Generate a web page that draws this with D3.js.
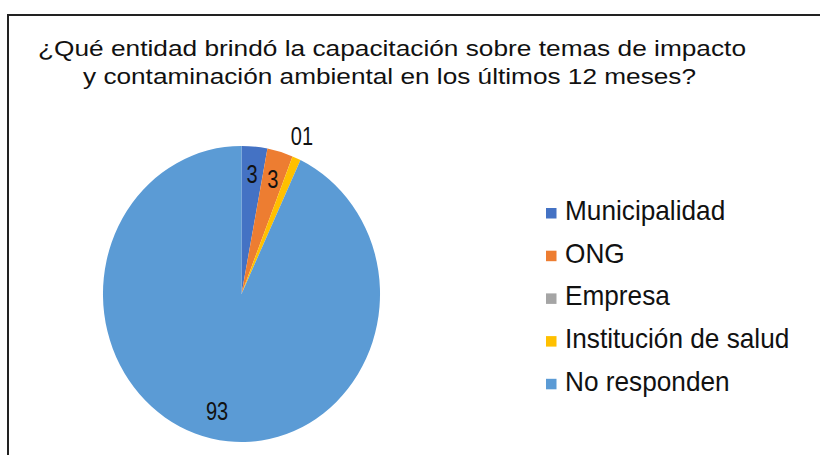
<!DOCTYPE html>
<html>
<head>
<meta charset="utf-8">
<script src="https://cdn.jsdelivr.net/npm/d3@7"></script>
<style>
  body { margin: 0; background: #fff; }
  svg { display: block; }
</style>
</head>
<body>
<div id="container"></div>
<script>
/* CONSTANTS AND GLOBALS */
const width = 820,
  height = 455,
  radius = 148,
  squash = 0.936, // picture is a bit narrower than tall
  narrow = 0.8;   // condensed look of the data labels

/* DATA */
const categories = ["Municipalidad", "ONG", "Empresa", "Institución de salud", "No responden"];
const values = [3, 3, 0, 1, 93];
const colors = ["#4472C4", "#ED7D31", "#A5A5A5", "#FFC000", "#5B9BD5"];
const titleLines = [
  "¿Qué entidad brindó la capacitación sobre temas de impacto",
  "y contaminación ambiental en los últimos 12 meses?"
];

const data = categories.map((c, i) => ({ name: c, value: values[i], color: colors[i] }));

const svg = d3.select("#container")
  .append("svg")
  .attr("width", width)
  .attr("height", height)
  .style("background-color", "white");

// chart frame (right and bottom edges run off the picture)
svg.append("rect")
  .attr("x", 8)
  .attr("y", 15)
  .attr("width", 830)
  .attr("height", 460)
  .attr("fill", "none")
  .attr("stroke", "#222")
  .attr("stroke-width", 2);

/* TITLE */
svg.selectAll(".title")
  .data(titleLines)
  .join("text")
  .attr("class", "title")
  .attr("x", (d, i) => i === 0 ? 38 : 83)
  .attr("y", (d, i) => 56 + i * 28)
  .attr("textLength", (d, i) => i === 0 ? 708 : 613)
  .attr("lengthAdjust", "spacingAndGlyphs")
  .style("font-family", "'Liberation Sans', Arial, sans-serif")
  .style("font-size", "22px")
  .style("fill", "#111")
  .text(d => d);

/* PIE */
const pie = d3.pie().sort(null).value(d => d.value);
const arcs = pie(data);
const arc = d3.arc().innerRadius(0).outerRadius(radius);
const labelArc = d3.arc().innerRadius(radius * 0.81).outerRadius(radius * 0.81);
const outerArc = d3.arc().innerRadius(radius * 1.14).outerRadius(radius * 1.14);

const g = svg.append("g")
  .attr("transform", `translate(241.5,294)`);

g.append("g")
  .attr("transform", `scale(${squash},1)`)
  .selectAll("path")
  .data(arcs)
  .join("path")
  .attr("d", arc)
  .attr("fill", d => d.data.color);

const labelFont = "'Liberation Sans', Arial, sans-serif";

// big slices: label inside
const inside = arcs.filter(d => d.data.value >= 2);
g.selectAll(".inlabel")
  .data(inside)
  .join("text")
  .attr("class", "inlabel")
  .attr("transform", d => {
    const c = labelArc.centroid(d);
    return `translate(${c[0] * squash},${c[1]}) scale(${narrow},1)`;
  })
  .attr("dy", "0.35em")
  .attr("text-anchor", "middle")
  .style("font-family", labelFont)
  .style("font-size", "25px")
  .style("fill", "#111")
  .text(d => d.data.value);

// thin slices: labels outside, side by side at their shared angle
const outside = arcs.filter(d => d.data.value < 2);
const midAngle = d3.mean(outside, d => (d.startAngle + d.endAngle) / 2);
const op = outerArc.centroid({ startAngle: midAngle, endAngle: midAngle });
g.selectAll(".outlabel")
  .data(outside)
  .join("text")
  .attr("class", "outlabel")
  .attr("transform", `translate(${op[0] * squash},${op[1] - 2}) scale(${narrow},1)`)
  .attr("dy", "0.35em")
  .attr("text-anchor", (d, i) => i === 0 ? "end" : "start")
  .style("font-family", labelFont)
  .style("font-size", "25px")
  .style("fill", "#111")
  .text(d => d.data.value);

/* LEGEND */
const legend = svg.append("g")
  .attr("transform", "translate(546,220)");

const rows = legend.selectAll(".row")
  .data(data)
  .join("g")
  .attr("class", "row")
  .attr("transform", (d, i) => `translate(0,${i * 42.7})`);

rows.append("rect")
  .attr("x", 0)
  .attr("y", -12)
  .attr("width", 10.5)
  .attr("height", 10.5)
  .attr("fill", d => d.color);

rows.append("text")
  .attr("transform", `translate(19,0) scale(${squash},1)`)
  .style("font-family", "'Liberation Sans', Arial, sans-serif")
  .style("font-size", "28px")
  .style("fill", "#111")
  .text(d => d.name);
</script>
</body>
</html>
